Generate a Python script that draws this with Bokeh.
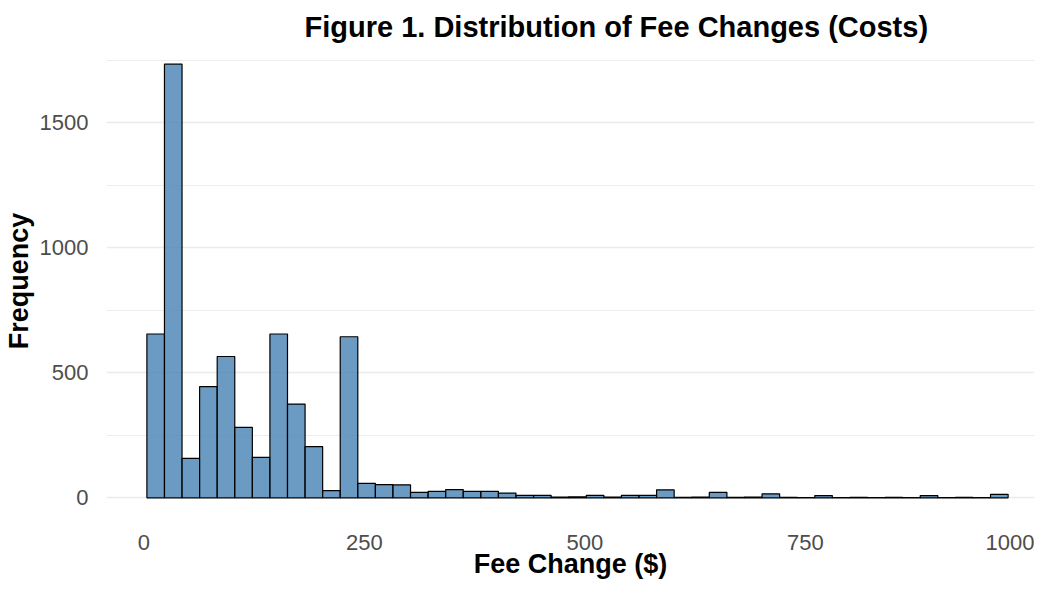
from bokeh.plotting import figure
from bokeh.models import FixedTicker, Range1d, Title
from bokeh.embed import file_html
from bokeh.resources import INLINE

# Histogram data
bin_start = 3.4
bin_width = 19.93
counts = [655, 1734, 158, 445, 565, 282, 162, 655, 375, 205,
          29, 644, 58, 53, 52, 22, 26, 33, 26, 26,
          19, 10, 10, 3, 4, 10, 3, 10, 10, 32,
          2, 3, 22, 2, 3, 16, 2, 1, 9, 1,
          2, 1, 2, 1, 9, 1, 2, 1, 14]
x_ticks = [0, 250, 500, 750, 1000]
y_ticks = [0, 500, 1000, 1500]
y_minor = [250, 750, 1250, 1750]
title_text = "Figure 1. Distribution of Fee Changes (Costs)"
x_title = "Fee Change ($)"
y_title = "Frequency"

lefts = [bin_start + i * bin_width for i in range(len(counts))]
rights = [l + bin_width for l in lefts]

ymax = max(counts)
p = figure(width=1034, height=581, output_backend="svg", toolbar_location=None,
           x_range=Range1d(-42.4, 1009.9), y_range=Range1d(-0.05 * ymax, 1.05 * ymax),
           min_border_left=95, min_border_right=0, min_border_top=42, min_border_bottom=62)
p.outline_line_color = None
p.background_fill_color = "white"

p.quad(left=lefts, right=rights, bottom=0, top=counts,
       fill_color="#4682B4", fill_alpha=0.8, line_color="black", line_width=1.2)

for ax in (p.xaxis[0], p.yaxis[0]):
    ax.axis_line_color = None
    ax.major_tick_line_color = None
    ax.minor_tick_line_color = None
    ax.major_label_text_font = "Liberation Sans"
    ax.major_label_text_font_size = "22px"
    ax.major_label_text_color = "#4D4D4D"
    ax.axis_label_text_font = "Liberation Sans"
    ax.axis_label_text_font_style = "bold"
    ax.axis_label_text_font_size = "27px"
    ax.axis_label_text_color = "black"

p.xaxis.ticker = FixedTicker(ticks=x_ticks)
p.yaxis.ticker = FixedTicker(ticks=y_ticks, minor_ticks=y_minor)
p.xaxis.axis_label = x_title
p.yaxis.axis_label = y_title
p.xaxis.major_label_standoff = 9
p.xaxis.axis_label_standoff = -4
p.yaxis.major_label_standoff = 12
p.yaxis.axis_label_standoff = 3

p.xgrid.grid_line_color = None
p.ygrid.grid_line_color = "#EBEBEB"
p.ygrid.grid_line_width = 1.6
p.ygrid.minor_grid_line_color = "#EBEBEB"
p.ygrid.minor_grid_line_width = 0.9

p.title = Title(text=title_text, align="left", offset=198, standoff=0,
                text_font="Liberation Sans", text_font_style="bold",
                text_font_size="29px", text_color="black")

open("out.html", "w").write(file_html(p, INLINE))
